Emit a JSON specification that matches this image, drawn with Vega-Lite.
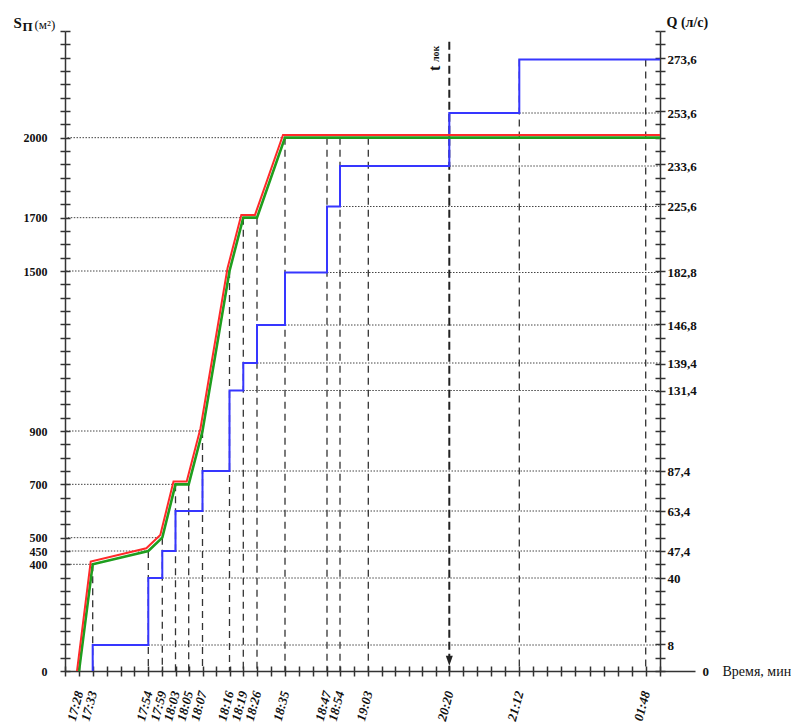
{
  "$schema": "https://vega.github.io/schema/vega-lite/v6.json",
  "autosize": "none",
  "width": 595,
  "height": 640,
  "padding": {"left": 65, "top": 31, "right": 131, "bottom": 53},
  "background": "white",
  "config": {
    "view": {"stroke": null},
    "axis": {"grid": false, "domainColor": "#333", "domainWidth": 1.5, "tickColor": "#333", "tickWidth": 1.5, "labelColor": "#111", "titleColor": "#111", "labelFont": "Liberation Serif", "titleFont": "Liberation Serif"}
  },
  "datasets": {
    "area": [
      {"t": "17:28", "min": 1048, "S": 0},
      {"t": "17:33", "min": 1053, "S": 400},
      {"t": "17:54", "min": 1074, "S": 450},
      {"t": "17:59", "min": 1079, "S": 500},
      {"t": "18:03", "min": 1083, "S": 700},
      {"t": "18:05", "min": 1085, "S": 700},
      {"t": "18:07", "min": 1087, "S": 900},
      {"t": "18:16", "min": 1096, "S": 1500},
      {"t": "18:19", "min": 1099, "S": 1700},
      {"t": "18:26", "min": 1106, "S": 1700},
      {"t": "18:35", "min": 1115, "S": 2000},
      {"t": "end", "min": 1579, "S": 2000}
    ],
    "flow": [
      {"t": "17:33", "min": 1053, "Q": 0},
      {"t": "17:33", "min": 1053, "Q": 8},
      {"t": "17:54", "min": 1074, "Q": 40},
      {"t": "17:59", "min": 1079, "Q": 47.4},
      {"t": "18:03", "min": 1083, "Q": 63.4},
      {"t": "18:07", "min": 1087, "Q": 87.4},
      {"t": "18:16", "min": 1096, "Q": 131.4},
      {"t": "18:19", "min": 1099, "Q": 139.4},
      {"t": "18:26", "min": 1106, "Q": 146.8},
      {"t": "18:35", "min": 1115, "Q": 182.8},
      {"t": "18:47", "min": 1127, "Q": 225.6},
      {"t": "18:54", "min": 1134, "Q": 233.6},
      {"t": "20:20", "min": 1220, "Q": 253.6},
      {"t": "21:12", "min": 1272, "Q": 273.6},
      {"t": "end", "min": 1579, "Q": 273.6}
    ],
    "s_levels": [
      {"S": 400, "t": "17:33", "min": 1053},
      {"S": 450, "t": "17:54", "min": 1074},
      {"S": 500, "t": "17:59", "min": 1079},
      {"S": 700, "t": "18:03", "min": 1083},
      {"S": 900, "t": "18:07", "min": 1087},
      {"S": 1500, "t": "18:16", "min": 1096},
      {"S": 1700, "t": "18:19", "min": 1099},
      {"S": 2000, "t": "18:35", "min": 1115}
    ],
    "q_levels": [
      {"Q": 8, "t": "17:54", "min": 1074},
      {"Q": 40, "t": "17:59", "min": 1079},
      {"Q": 47.4, "t": "18:03", "min": 1083},
      {"Q": 63.4, "t": "18:07", "min": 1087},
      {"Q": 87.4, "t": "18:16", "min": 1096},
      {"Q": 131.4, "t": "18:19", "min": 1099},
      {"Q": 139.4, "t": "18:26", "min": 1106},
      {"Q": 146.8, "t": "18:35", "min": 1115},
      {"Q": 182.8, "t": "18:47", "min": 1127},
      {"Q": 225.6, "t": "18:54", "min": 1134},
      {"Q": 233.6, "t": "20:20", "min": 1220},
      {"Q": 253.6, "t": "21:12", "min": 1272}
    ],
    "s_marks": [
      {"t": "17:33", "min": 1053, "S": 400},
      {"t": "17:54", "min": 1074, "S": 450},
      {"t": "17:59", "min": 1079, "S": 500},
      {"t": "18:03", "min": 1083, "S": 700},
      {"t": "18:05", "min": 1085, "S": 700},
      {"t": "18:07", "min": 1087, "S": 900},
      {"t": "18:16", "min": 1096, "S": 1500},
      {"t": "18:19", "min": 1099, "S": 1700},
      {"t": "18:26", "min": 1106, "S": 1700},
      {"t": "18:35", "min": 1115, "S": 2000},
      {"t": "18:47", "min": 1127, "S": 2000},
      {"t": "18:54", "min": 1134, "S": 2000},
      {"t": "19:03", "min": 1143, "S": 2000}
    ],
    "q_marks": [
      {"t": "21:12", "min": 1272, "Q": 273.6},
      {"t": "01:48", "min": 1548, "Q": 273.6}
    ],
    "marker": [
      {"t": "20:20", "min": 1220, "sym": "t", "sub": "лок"}
    ]
  },
  "resolve": {"scale": {"x": "independent", "y": "independent"}, "axis": {"x": "independent", "y": "independent"}},
  "layer": [
    {
      "data": {"name": "s_levels"},
      "mark": {"type": "rule", "color": "#444", "strokeWidth": 1, "strokeDash": [1.5, 1.5]},
      "encoding": {
        "x": {"field": "min", "type": "quantitative",
          "scale": {"type": "linear", "nice": false, "zero": false, "domain": [1043,1048,1053,1074,1079,1083,1085,1087,1096,1099,1106,1115,1127,1134,1143,1220,1272,1548,1579], "range": [0,14,27.7,83.3,97.3,110.5,123.7,137.5,164.5,178.3,192,220,262,275,303.3,384.3,454.3,580.7,595]},
          "axis": {"orient": "bottom", "values": [1043,1048,1053,1058.25,1063.5,1068.75,1074,1079,1083,1085,1087,1091.5,1096,1099,1106,1110.5,1115,1119,1123,1127,1134,1138.5,1143,1155.83,1168.67,1181.5,1194.33,1207.17,1220,1230.4,1240.8,1251.2,1261.6,1272,1302.67,1333.33,1364,1394.67,1425.33,1456,1486.67,1517.33,1548,1579],
            "tickSize": 5, "domain": false,
            "labelExpr": "indexof([1048,1053,1074,1079,1083,1085,1087,1096,1099,1106,1115,1127,1134,1143,1220,1272,1548], datum.value) >= 0 ? ((floor(datum.value/60)%24 < 10 ? '0' : '') + (floor(datum.value/60)%24) + ':' + (datum.value%60 < 10 ? '0' : '') + (datum.value%60)) : ''",
            "labelAngle": -75, "labelFontWeight": "bold", "labelFontStyle": "italic", "labelFontSize": 13, "labelPadding": 15, "labelOverlap": false,
            "title": "Время, мин", "titleX": 657, "titleY": 4, "titleAlign": "left", "titleAngle": 0, "titleBaseline": "alphabetic", "titleFontWeight": "normal", "titleFontSize": 14}},
        "x2": {"datum": 1043},
        "y": {"field": "S", "type": "quantitative",
          "scale": {"type": "linear", "nice": false, "zero": false, "domain": [0, 2400], "range": [640, 0]},
          "axis": {"orient": "left", "values": [0,50,100,150,200,250,300,350,400,450,500,550,600,650,700,750,800,850,900,950,1000,1050,1100,1150,1200,1250,1300,1350,1400,1450,1500,1550,1600,1650,1700,1750,1800,1850,1900,1950,2000,2050,2100,2150,2200,2250,2300,2350,2400],
            "tickSize": 5, "domain": true,
            "labelExpr": "indexof([0,400,450,500,700,900,1500,1700,2000], datum.value) >= 0 ? toString(datum.value) : ''",
            "labelFontWeight": "bold", "labelFontSize": 12, "labelPadding": 13, "labelOverlap": false,
            "title": "S", "titleX": -52, "titleY": -4, "titleAngle": 0, "titleAlign": "left", "titleBaseline": "alphabetic", "titleFontWeight": "bold", "titleFontSize": 15}}
      }
    },
    {
      "data": {"name": "q_levels"},
      "mark": {"type": "rule", "color": "#444", "strokeWidth": 1, "strokeDash": [1.5, 1.5]},
      "encoding": {
        "x": {"field": "min", "type": "quantitative",
          "scale": {"type": "linear", "nice": false, "zero": false, "domain": [1043,1048,1053,1074,1079,1083,1085,1087,1096,1099,1106,1115,1127,1134,1143,1220,1272,1548,1579,1700], "range": [0,14,27.7,83.3,97.3,110.5,123.7,137.5,164.5,178.3,192,220,262,275,303.3,384.3,454.3,580.7,595,630]},
          "axis": {"orient": "bottom", "values": [1043,1048,1053,1058.25,1063.5,1068.75,1074,1079,1083,1085,1087,1091.5,1096,1099,1106,1110.5,1115,1119,1123,1127,1134,1138.5,1143,1155.83,1168.67,1181.5,1194.33,1207.17,1220,1230.4,1240.8,1251.2,1261.6,1272,1302.67,1333.33,1364,1394.67,1425.33,1456,1486.67,1517.33,1548,1579],
            "tickSize": -5, "labels": false, "domain": true, "title": null}},
        "x2": {"datum": 1579},
        "y": {"field": "Q", "type": "quantitative",
          "scale": {"type": "linear", "nice": false, "zero": false, "domain": [0,8,40,47.4,63.4,87.4,131.4,139.4,146.8,182.8,225.6,233.6,253.6,273.6], "range": [640,614,547,520,480,440,359.5,332,294,241.5,175.5,135,82,28.5]},
          "axis": {"orient": "right", "values": [0,8,40,47.4,63.4,87.4,131.4,139.4,146.8,182.8,225.6,233.6,253.6,273.6],
            "ticks": false, "domain": false,
            "labelExpr": "replace(toString(datum.value), '.', ',')",
            "labelFontWeight": "bold", "labelFontSize": 13, "labelOverlap": false,
            "labelPadding": {"condition": {"test": "datum.value === 0", "value": 42}, "value": 7},
            "title": "Q (л/с)", "titleX": 6, "titleY": -5, "titleAngle": 0, "titleAlign": "left", "titleBaseline": "alphabetic", "titleFontWeight": "bold", "titleFontSize": 14}}
      }
    },
    {
      "data": {"name": "s_marks"},
      "mark": {"type": "rule", "color": "#333", "strokeWidth": 1.3, "strokeDash": [7, 5]},
      "encoding": {
        "x": {"field": "min", "type": "quantitative",
          "scale": {"type": "linear", "nice": false, "zero": false, "domain": [1043,1048,1053,1074,1079,1083,1085,1087,1096,1099,1106,1115,1127,1134,1143,1220,1272,1548,1579], "range": [0,14,27.7,83.3,97.3,110.5,123.7,137.5,164.5,178.3,192,220,262,275,303.3,384.3,454.3,580.7,595]},
          "axis": null},
        "y": {"field": "S", "type": "quantitative",
          "scale": {"type": "linear", "nice": false, "zero": false, "domain": [0, 2400], "range": [640, 0]},
          "axis": {"orient": "left", "values": [0,50,100,150,200,250,300,350,400,450,500,550,600,650,700,750,800,850,900,950,1000,1050,1100,1150,1200,1250,1300,1350,1400,1450,1500,1550,1600,1650,1700,1750,1800,1850,1900,1950,2000,2050,2100,2150,2200,2250,2300,2350,2400],
            "tickSize": -5, "labels": false, "domain": false,
            "title": "П", "titleX": -43, "titleY": -1, "titleAngle": 0, "titleAlign": "left", "titleBaseline": "alphabetic", "titleFontWeight": "bold", "titleFontSize": 13}},
        "y2": {"datum": 0}
      }
    },
    {
      "data": {"name": "q_marks"},
      "mark": {"type": "rule", "color": "#333", "strokeWidth": 1.3, "strokeDash": [7, 5]},
      "encoding": {
        "x": {"field": "min", "type": "quantitative",
          "scale": {"type": "linear", "nice": false, "zero": false, "domain": [1043,1048,1053,1074,1079,1083,1085,1087,1096,1099,1106,1115,1127,1134,1143,1220,1272,1548,1579], "range": [0,14,27.7,83.3,97.3,110.5,123.7,137.5,164.5,178.3,192,220,262,275,303.3,384.3,454.3,580.7,595]},
          "axis": null},
        "y": {"field": "Q", "type": "quantitative",
          "scale": {"type": "linear", "nice": false, "zero": false, "domain": [0,8,40,47.4,63.4,87.4,131.4,139.4,146.8,182.8,225.6,233.6,253.6,273.6], "range": [640,614,547,520,480,440,359.5,332,294,241.5,175.5,135,82,28.5]},
          "axis": null},
        "y2": {"datum": 0}
      }
    },
    {
      "data": {"name": "marker"},
      "mark": {"type": "rule", "color": "#222", "strokeWidth": 2, "strokeDash": [8, 4]},
      "encoding": {
        "x": {"field": "min", "type": "quantitative",
          "scale": {"type": "linear", "nice": false, "zero": false, "domain": [1043,1048,1053,1074,1079,1083,1085,1087,1096,1099,1106,1115,1127,1134,1143,1220,1272,1548,1579], "range": [0,14,27.7,83.3,97.3,110.5,123.7,137.5,164.5,178.3,192,220,262,275,303.3,384.3,454.3,580.7,595]},
          "axis": null},
        "y": {"datum": 2360, "type": "quantitative",
          "scale": {"type": "linear", "nice": false, "zero": false, "domain": [0, 2400], "range": [640, 0]},
          "axis": {"orient": "right", "values": [0,50,100,150,200,250,300,350,400,450,500,550,600,650,700,750,800,850,900,950,1000,1050,1100,1150,1200,1250,1300,1350,1400,1450,1500,1550,1600,1650,1700,1750,1800,1850,1900,1950,2000,2050,2100,2150,2200,2250,2300,2350,2400],
            "tickSize": 5, "labels": false, "domain": true,
            "title": "(м²)", "titleX": -626, "titleY": -3, "titleAngle": 0, "titleAlign": "left", "titleBaseline": "alphabetic", "titleFontWeight": "normal", "titleFontSize": 13}},
        "y2": {"datum": 0}
      }
    },
    {
      "data": {"name": "marker"},
      "mark": {"type": "point", "shape": "M-0.7,-1L0.7,-1L0,1Z", "filled": true, "color": "#222", "opacity": 1, "size": 100},
      "encoding": {
        "x": {"field": "min", "type": "quantitative",
          "scale": {"type": "linear", "nice": false, "zero": false, "domain": [1043,1048,1053,1074,1079,1083,1085,1087,1096,1099,1106,1115,1127,1134,1143,1220,1272,1548,1579], "range": [0,14,27.7,83.3,97.3,110.5,123.7,137.5,164.5,178.3,192,220,262,275,303.3,384.3,454.3,580.7,595]},
          "axis": null},
        "y": {"datum": 38, "type": "quantitative",
          "scale": {"type": "linear", "nice": false, "zero": false, "domain": [0, 2400], "range": [640, 0]},
          "axis": {"orient": "right", "values": [0,50,100,150,200,250,300,350,400,450,500,550,600,650,700,750,800,850,900,950,1000,1050,1100,1150,1200,1250,1300,1350,1400,1450,1500,1550,1600,1650,1700,1750,1800,1850,1900,1950,2000,2050,2100,2150,2200,2250,2300,2350,2400],
            "tickSize": -5, "labels": false, "domain": false, "title": null}}
      }
    },
    {
      "data": {"name": "flow"},
      "mark": {"type": "line", "interpolate": "step-after", "color": "#3636ff", "strokeWidth": 2},
      "encoding": {
        "x": {"field": "min", "type": "quantitative",
          "scale": {"type": "linear", "nice": false, "zero": false, "domain": [1043,1048,1053,1074,1079,1083,1085,1087,1096,1099,1106,1115,1127,1134,1143,1220,1272,1548,1579], "range": [0,14,27.7,83.3,97.3,110.5,123.7,137.5,164.5,178.3,192,220,262,275,303.3,384.3,454.3,580.7,595]},
          "axis": null},
        "y": {"field": "Q", "type": "quantitative",
          "scale": {"type": "linear", "nice": false, "zero": false, "domain": [0,8,40,47.4,63.4,87.4,131.4,139.4,146.8,182.8,225.6,233.6,253.6,273.6], "range": [640,614,547,520,480,440,359.5,332,294,241.5,175.5,135,82,28.5]},
          "axis": null},
        "order": {"value": null}
      }
    },
    {
      "data": {"name": "area"},
      "mark": {"type": "line", "color": "#1e9e1e", "strokeWidth": 2.6},
      "encoding": {
        "x": {"field": "min", "type": "quantitative",
          "scale": {"type": "linear", "nice": false, "zero": false, "domain": [1043,1048,1053,1074,1079,1083,1085,1087,1096,1099,1106,1115,1127,1134,1143,1220,1272,1548,1579], "range": [0,14,27.7,83.3,97.3,110.5,123.7,137.5,164.5,178.3,192,220,262,275,303.3,384.3,454.3,580.7,595]},
          "axis": null},
        "y": {"field": "S", "type": "quantitative",
          "scale": {"type": "linear", "nice": false, "zero": false, "domain": [0, 2400], "range": [640, 0]},
          "axis": null}
      }
    },
    {
      "data": {"name": "area"},
      "mark": {"type": "line", "color": "#ff2a2a", "strokeWidth": 2},
      "encoding": {
        "x": {"field": "min", "type": "quantitative",
          "scale": {"type": "linear", "nice": false, "zero": false, "domain": [1043,1048,1053,1074,1079,1083,1085,1087,1096,1099,1106,1115,1127,1134,1143,1220,1272,1548,1579], "range": [-2,12,25.7,81.3,95.3,108.5,121.7,135.5,162.5,176.3,190,218,260,273,301.3,382.3,452.3,578.7,595]},
          "axis": null},
        "y": {"field": "S", "type": "quantitative",
          "scale": {"type": "linear", "nice": false, "zero": false, "domain": [0, 400, 2400], "range": [640, 530.6, -2.7]},
          "axis": null}
      }
    },
    {
      "data": {"name": "marker"},
      "mark": {"type": "text", "angle": -90, "align": "left", "baseline": "alphabetic", "dy": -9, "font": "Liberation Serif", "fontWeight": "bold", "fontSize": 16, "color": "#111"},
      "encoding": {
        "x": {"field": "min", "type": "quantitative",
          "scale": {"type": "linear", "nice": false, "zero": false, "domain": [1043,1048,1053,1074,1079,1083,1085,1087,1096,1099,1106,1115,1127,1134,1143,1220,1272,1548,1579], "range": [0,14,27.7,83.3,97.3,110.5,123.7,137.5,164.5,178.3,192,220,262,275,303.3,384.3,454.3,580.7,595]},
          "axis": null},
        "y": {"datum": 2250, "type": "quantitative",
          "scale": {"type": "linear", "nice": false, "zero": false, "domain": [0, 2400], "range": [640, 0]},
          "axis": null},
        "text": {"field": "sym"}
      }
    },
    {
      "data": {"name": "marker"},
      "mark": {"type": "text", "angle": -90, "align": "left", "baseline": "alphabetic", "dx": 9, "dy": -10, "font": "Liberation Serif", "fontWeight": "bold", "fontSize": 10, "color": "#111"},
      "encoding": {
        "x": {"field": "min", "type": "quantitative",
          "scale": {"type": "linear", "nice": false, "zero": false, "domain": [1043,1048,1053,1074,1079,1083,1085,1087,1096,1099,1106,1115,1127,1134,1143,1220,1272,1548,1579], "range": [0,14,27.7,83.3,97.3,110.5,123.7,137.5,164.5,178.3,192,220,262,275,303.3,384.3,454.3,580.7,595]},
          "axis": null},
        "y": {"datum": 2250, "type": "quantitative",
          "scale": {"type": "linear", "nice": false, "zero": false, "domain": [0, 2400], "range": [640, 0]},
          "axis": null},
        "text": {"field": "sub"}
      }
    }
  ]
}
